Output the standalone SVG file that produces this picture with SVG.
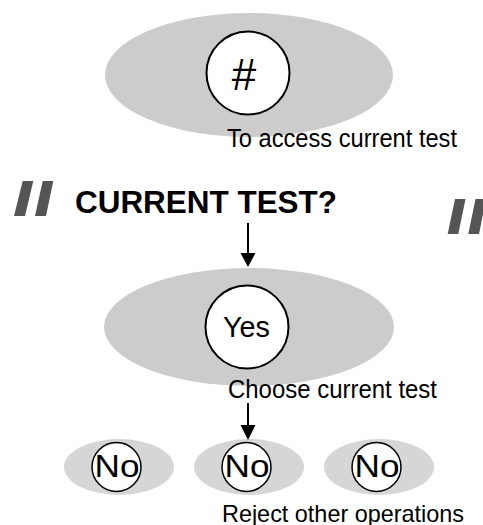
<svg xmlns="http://www.w3.org/2000/svg" width="483" height="525" viewBox="0 0 483 525">
<defs>
<style>
.bg{fill:#cccccc;stroke:none}
.bgs{fill:#d6d6d6;stroke:none}
.key{fill:#ffffff;stroke:#000000;stroke-width:2}
.keys{fill:#ffffff;stroke:#000000;stroke-width:1.5}
.t{font-family:"Liberation Sans",Arial,sans-serif;fill:#000000}
.q{fill:#555555}
.ln{stroke:#000000;stroke-width:2;fill:none}
.ah{fill:#000000}
</style>
</defs>
<rect width="483" height="525" fill="#ffffff"/>
<g id="node-hash">
<ellipse class="bg" cx="249" cy="75" rx="144" ry="62"/>
<circle class="key" cx="248" cy="73" r="41.5"/>
<text class="t" x="244" y="90" font-size="44" text-anchor="middle">#</text>
<text class="t" x="227" y="147" font-size="25" textLength="230" lengthAdjust="spacingAndGlyphs">To access current test</text>
</g>
<g id="title">
<polygon class="q" points="14,216 25,216 33.3,181 22.7,181"/>
<polygon class="q" points="35,216 46,216 53.3,181 42.7,181"/>
<text class="t" x="75" y="213" font-size="31" font-weight="bold" textLength="262" lengthAdjust="spacingAndGlyphs">CURRENT TEST?</text>
<polygon class="q" points="447.7,234 458.3,234 465.5,199 455,199"/>
<polygon class="q" points="468.3,234 479,234 486,199 475.5,199"/>
</g>
<g id="node-yes">
<ellipse class="bg" cx="249" cy="327" rx="145" ry="59"/>
<circle class="key" cx="247" cy="327" r="41.5"/>
<text class="t" x="223" y="337" font-size="30" textLength="47" lengthAdjust="spacingAndGlyphs">Yes</text>
<text class="t" x="228" y="398" font-size="25" textLength="209" lengthAdjust="spacingAndGlyphs">Choose current test</text>
</g>
<g id="node-no-1">
<ellipse class="bgs" cx="119" cy="467" rx="55" ry="28"/>
<circle class="keys" cx="116.5" cy="467" r="24.5"/>
<text class="t" x="117" y="477" font-size="32" text-anchor="middle" textLength="45" lengthAdjust="spacingAndGlyphs">No</text>
</g>
<g id="node-no-2">
<ellipse class="bgs" cx="249" cy="467" rx="55" ry="28"/>
<circle class="keys" cx="246.5" cy="467" r="24.5"/>
<text class="t" x="247" y="477" font-size="32" text-anchor="middle" textLength="45" lengthAdjust="spacingAndGlyphs">No</text>
</g>
<g id="node-no-3">
<ellipse class="bgs" cx="379" cy="467" rx="55" ry="28"/>
<circle class="keys" cx="376.5" cy="467" r="24.5"/>
<text class="t" x="377" y="477" font-size="32" text-anchor="middle" textLength="45" lengthAdjust="spacingAndGlyphs">No</text>
</g>
<text class="t" x="222" y="521.5" font-size="24" textLength="242" lengthAdjust="spacingAndGlyphs">Reject other operations</text>
<g id="connectors">
<line class="ln" x1="248" y1="223" x2="248" y2="254"/>
<polygon class="ah" points="240.5,253 255.5,253 248,267"/>
<line class="ln" x1="248" y1="403" x2="248" y2="426"/>
<polygon class="ah" points="240.5,425 255.5,425 248,440"/>
</g>
</svg>
